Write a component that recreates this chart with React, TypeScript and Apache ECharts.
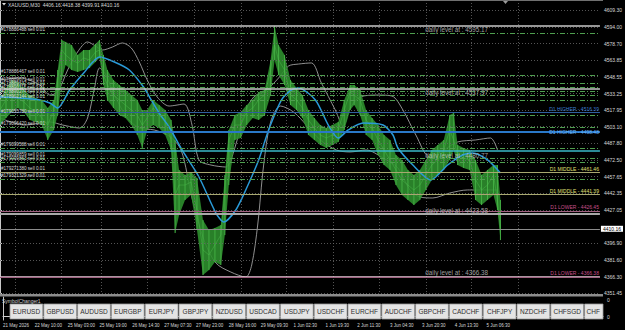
import React, { useEffect, useRef } from "react";
import * as echarts from "echarts";

// ---------- data ----------
const titleText = "XAUUSD,M30  4406.16 4418.38 4399.91 4410.16";

const priceTicks = [4609.3, 4594.0, 4578.7, 4563.85, 4548.55, 4533.25, 4517.95, 4503.1, 4487.8, 4472.5, 4457.65, 4442.35, 4427.05, 4396.9, 4381.6, 4366.3, 4351.45];
const currentPrice = 4410.16;

const timeLabels = ["21 May 2026", "22 May 10:00", "25 May 03:00", "25 May 19:00", "26 May 14:30", "27 May 07:30", "27 May 23:00", "28 May 16:00", "29 May 09:30", "1 Jun 02:30", "1 Jun 19:30", "2 Jun 11:30", "3 Jun 04:30", "3 Jun 20:30", "4 Jun 13:30", "5 Jun 06:30"];
const timeBars = [0, 32, 65, 97, 130, 162, 194, 227, 259, 292, 324, 356, 389, 421, 454, 486];
const gridBars = [15, 62, 102, 148, 195, 242, 288, 335, 381, 428, 474, 521];

const priceBars = [0, 6, 12, 18, 24, 30, 36, 42, 48, 54, 58, 62, 66, 72, 78, 84, 90, 96, 100, 104, 108, 114, 120, 126, 132, 138, 143, 148, 154, 160, 166, 172, 176, 180, 186, 192, 198, 204, 210, 216, 222, 226, 230, 236, 242, 248, 254, 260, 266, 272, 276, 280, 286, 292, 298, 304, 310, 316, 322, 328, 334, 340, 346, 352, 356, 362, 368, 374, 380, 386, 392, 398, 404, 410, 416, 422, 428, 434, 440, 446, 452, 456, 460, 466, 472, 478, 484, 490, 496, 500, 503];
const priceHigh = [4527.4, 4538.3, 4545.6, 4543.8, 4536.5, 4531.9, 4529.2, 4527.4, 4520.1, 4527.4, 4554.7, 4582.0, 4580.2, 4577.4, 4568.3, 4572.9, 4572.9, 4578.4, 4582.0, 4568.3, 4554.7, 4545.6, 4541.0, 4536.5, 4531.9, 4527.4, 4518.3, 4518.3, 4527.4, 4522.8, 4518.3, 4509.2, 4491.0, 4463.7, 4459.1, 4461.8, 4456.4, 4418.2, 4409.1, 4410.9, 4413.6, 4459.1, 4500.1, 4513.7, 4516.5, 4522.8, 4527.4, 4534.7, 4536.5, 4563.8, 4594.7, 4577.4, 4568.3, 4545.6, 4538.3, 4531.9, 4518.3, 4511.0, 4504.6, 4501.9, 4504.6, 4507.4, 4527.4, 4541.0, 4541.0, 4536.5, 4518.3, 4511.0, 4504.6, 4495.5, 4491.0, 4477.3, 4472.8, 4463.7, 4459.1, 4463.7, 4472.8, 4481.9, 4486.4, 4491.0, 4513.7, 4515.5, 4486.4, 4483.7, 4481.9, 4472.8, 4459.1, 4463.7, 4468.2, 4468.2, 4436.4];
const priceLow = [4504.6, 4511.0, 4516.5, 4520.1, 4516.5, 4509.2, 4507.4, 4504.6, 4491.0, 4500.1, 4513.7, 4545.6, 4559.2, 4554.7, 4552.9, 4554.7, 4556.5, 4562.0, 4565.6, 4541.0, 4527.4, 4520.1, 4513.7, 4511.0, 4504.6, 4495.5, 4483.7, 4500.1, 4504.6, 4501.9, 4495.5, 4481.9, 4406.3, 4422.7, 4436.4, 4440.9, 4409.1, 4368.1, 4372.6, 4379.9, 4377.2, 4404.5, 4450.0, 4491.0, 4492.8, 4504.6, 4511.0, 4509.2, 4513.7, 4531.9, 4563.8, 4550.1, 4541.0, 4522.8, 4518.3, 4511.0, 4495.5, 4491.0, 4486.4, 4483.7, 4486.4, 4489.2, 4500.1, 4518.3, 4522.8, 4513.7, 4495.5, 4491.0, 4477.3, 4468.2, 4463.7, 4450.0, 4440.9, 4436.4, 4431.8, 4436.4, 4445.5, 4454.6, 4459.1, 4463.7, 4472.8, 4481.9, 4468.2, 4465.5, 4463.7, 4436.4, 4431.8, 4436.4, 4440.9, 4427.3, 4399.9];
const priceClose = [4518.3, 4527.4, 4534.7, 4529.2, 4525.6, 4520.1, 4516.5, 4511.0, 4504.6, 4518.3, 4545.6, 4572.9, 4568.3, 4563.8, 4561.1, 4565.6, 4563.8, 4571.1, 4572.9, 4550.1, 4541.0, 4531.9, 4527.4, 4522.8, 4518.3, 4513.7, 4504.6, 4511.0, 4520.1, 4513.7, 4507.4, 4491.0, 4440.9, 4450.0, 4450.0, 4452.7, 4427.3, 4390.9, 4386.3, 4395.4, 4404.5, 4445.5, 4491.0, 4504.6, 4504.6, 4516.5, 4520.1, 4527.4, 4531.9, 4554.7, 4577.4, 4563.8, 4554.7, 4531.9, 4527.4, 4520.1, 4509.2, 4501.9, 4495.5, 4492.8, 4495.5, 4500.1, 4518.3, 4534.7, 4531.9, 4527.4, 4509.2, 4501.9, 4491.0, 4481.9, 4472.8, 4463.7, 4454.6, 4450.0, 4445.5, 4450.0, 4459.1, 4468.2, 4472.8, 4481.9, 4500.1, 4491.0, 4477.3, 4474.6, 4472.8, 4454.6, 4445.5, 4450.0, 4459.1, 4436.4, 4410.16];

const maBars = [0, 20, 40, 50, 58, 70, 85, 100, 115, 130, 145, 152, 160, 170, 183, 200, 217, 225, 237, 247, 260, 270, 283, 293, 300, 317, 330, 340, 350, 365, 385, 395, 400, 415, 433, 450, 465, 475, 490, 503];
const maValues = [4530.1, 4529.2, 4527.4, 4524.7, 4520.1, 4536.5, 4552.9, 4566.5, 4562.0, 4554.7, 4538.3, 4527.4, 4515.5, 4502.8, 4481.9, 4457.3, 4424.5, 4416.3, 4427.3, 4445.5, 4472.8, 4500.1, 4527.4, 4536.5, 4538.3, 4527.4, 4504.6, 4492.8, 4500.1, 4506.4, 4504.6, 4495.5, 4483.7, 4468.2, 4454.6, 4468.2, 4477.3, 4479.1, 4472.8, 4460.9];

const upperBars = [0, 20, 40, 50, 58, 68, 78, 88, 96, 103, 113, 123, 132, 140, 148, 158, 170, 185, 193, 200, 212, 227, 236, 245, 255, 268, 280, 290, 300, 313, 323, 337, 345, 352, 362, 380, 394, 405, 418, 432, 446, 460, 478, 493, 500];
const upperValues = [4545.6, 4547.4, 4541.0, 4531.9, 4534.7, 4554.7, 4571.1, 4580.2, 4576.5, 4572.9, 4575.6, 4579.3, 4574.7, 4562.0, 4545.6, 4530.1, 4521.9, 4523.7, 4504.6, 4472.8, 4468.2, 4466.4, 4483.7, 4513.7, 4530.1, 4536.5, 4547.4, 4558.3, 4560.1, 4561.1, 4542.9, 4518.3, 4503.7, 4520.1, 4530.1, 4531.9, 4531.0, 4518.3, 4495.5, 4475.5, 4481.9, 4489.2, 4491.0, 4492.8, 4481.9];

const lowerBars = [0, 25, 50, 63, 80, 88, 95, 100, 106, 115, 128, 140, 155, 170, 182, 193, 205, 217, 232, 247, 253, 259, 265, 272, 282, 295, 308, 322, 338, 352, 368, 385, 400, 412, 422, 435, 452, 470, 500];
const lowerValues = [4511.0, 4504.6, 4507.4, 4504.6, 4501.9, 4511.0, 4538.3, 4556.5, 4551.0, 4531.9, 4511.0, 4501.9, 4500.1, 4494.6, 4481.9, 4438.2, 4400.0, 4379.0, 4370.8, 4366.3, 4377.2, 4413.6, 4468.2, 4507.4, 4521.9, 4516.5, 4504.6, 4491.0, 4481.9, 4480.1, 4481.9, 4474.6, 4465.5, 4445.5, 4439.1, 4438.2, 4442.7, 4445.5, 4445.5];

const dailyLevels = [4595.17, 4537.97, 4480.77, 4423.58, 4366.38];
const d1HigherLevels = [4516.39, 4498.48];
const d1MiddleLevels = [4461.46, 4441.39];
const d1LowerLevels = [4426.45, 4366.38];

const orderTickets = ["#178886488", "#178886467", "#178889671", "#178889632", "#178890115", "#178890274", "#178902144", "#179055780", "#179096420", "#179099588", "#179099859", "#179099863", "#179271380", "#179321329"];
const orderPrices = [4588.4, 4550.1, 4542.9, 4539.2, 4535.6, 4531.9, 4527.4, 4513.7, 4502.8, 4483.7, 4474.6, 4470.9, 4461.8, 4455.5];
const orderLots = "sell 0.01";

const symbols = ["EURUSD", "GBPUSD", "AUDUSD", "EURGBP", "EURJPY", "GBPJPY", "NZDUSD", "USDCAD", "USDJPY", "USDCHF", "EURCHF", "AUDCHF", "GBPCHF", "CADCHF", "CHFJPY", "NZDCHF", "CHFSGD", "CHF"];

// ---------- layout / style constants ----------
const FONT = "'Liberation Sans', Arial, sans-serif";
const PLOT_W = 603;
const DAILY_TAG_BAR = 426;
const DAILY_TAG_DY = [4, 4, 4, -4, -4];
const DAILY_COLORS = ["#c8c8c8", "#c8c8c8", "#3ab8c8", "#a8a8a8", "#e0c8d4"];
const DAILY_WIDTHS = [1.5, 1.5, 1.5, 2, 1.5];

function buildOption(): any {
  const hLine = (v: number, color: string, width: number, type: any, label: any) => ({
    yAxis: v,
    lineStyle: { color, width, type },
    label: label || { show: false },
  });

  const gridMarks = [
    ...priceTicks.map((v) => hLine(v, "#6a6a6a", 0.8, [1, 2], null)),
    ...gridBars.map((b) => ({ xAxis: b, lineStyle: { color: "#6a6a6a", width: 0.8, type: [1, 2] }, label: { show: false } })),
  ];

  const levelMarks: any[] = [];
  orderPrices.forEach((v, i) => {
    levelMarks.push(
      hLine(v, "#4f9f4f", 1, [5, 2, 1, 2], {
        show: true,
        position: "insideStartTop",
        distance: 1,
        formatter: `${orderTickets[i]} ${orderLots}`,
        color: "#d8d8d8",
        fontSize: 4.6,
        fontFamily: FONT,
      })
    );
  });
  dailyLevels.forEach((v, i) => levelMarks.push(hLine(v, DAILY_COLORS[i], DAILY_WIDTHS[i], "solid", null)));
  d1HigherLevels.forEach((v, i) =>
    levelMarks.push(
      hLine(v, i === 0 ? "#2f5f9f" : "#2a78c8", i === 0 ? 1.2 : 2, "solid", {
        show: true,
        position: i === 0 ? "insideEndTop" : "insideEnd",
        distance: 1,
        formatter: `D1 HIGHER - ${v.toFixed(2)}`,
        color: i === 0 ? "#3f7fd0" : "#6ab8ff",
        fontSize: 5,
        fontFamily: FONT,
      })
    )
  );
  d1MiddleLevels.forEach((v) =>
    levelMarks.push(
      hLine(v, "#a8a870", 1.2, "solid", {
        show: true,
        position: "insideEndTop",
        distance: 1,
        formatter: `D1 MIDDLE - ${v.toFixed(2)}`,
        color: "#e0e078",
        fontSize: 5,
        fontFamily: FONT,
      })
    )
  );
  d1LowerLevels.forEach((v) =>
    levelMarks.push(
      hLine(v, "#a06080", 1.2, "solid", {
        show: true,
        position: "insideEndTop",
        distance: 1,
        formatter: `D1 LOWER - ${v.toFixed(2)}`,
        color: "#c8508a",
        fontSize: 5,
        fontFamily: FONT,
      })
    )
  );
  levelMarks.push(
    hLine(currentPrice, "#8c8c8c", 1, "solid", {
      show: true,
      position: "end",
      distance: 1,
      formatter: currentPrice.toFixed(2),
      color: "#000",
      backgroundColor: "#fff",
      padding: [1, 2, 0, 2],
      fontSize: 5,
      fontFamily: FONT,
    })
  );

  const btnPitch = 33.8;
  const btnX0 = 10;
  const graphics: any[] = [
    { type: "line", z: 50, shape: { x1: 0, y1: 0.5, x2: PLOT_W, y2: 0.5 }, style: { stroke: "#707070", lineWidth: 1 } },
    { type: "polygon", z: 50, shape: { points: [[2, 3], [6, 3], [4, 5.5]] }, style: { fill: "#dddddd" } },
    { type: "text", z: 50, x: 8, y: 4.5, style: { text: titleText, fill: "#d8d8d8", fontSize: 5, fontFamily: FONT, verticalAlign: "middle" } },
    { type: "polygon", z: 50, shape: { points: [[503, 1], [508, 1], [505.5, 4]] }, style: { fill: "#9a9a9a" } },
    { type: "rect", z: 50, shape: { x: 0, y: 294, width: PLOT_W, height: 2.5 }, style: { fill: "#8c8c8c" } },
    { type: "text", z: 50, x: 2, y: 300.5, style: { text: "SymbolChanger1", fill: "#cfcfcf", fontSize: 5, fontFamily: FONT, verticalAlign: "middle" } },
  ];
  symbols.forEach((s, i) => {
    const x = btnX0 + i * btnPitch;
    const w = Math.min(32.8, PLOT_W - x);
    graphics.push({ type: "rect", z: 60, shape: { x, y: 304, width: w, height: 15 }, style: { fill: "#e4e4e4", stroke: "#9a9a9a", lineWidth: 0.8 } });
    const last = i === symbols.length - 1;
    graphics.push({
      type: "text",
      z: 61,
      x: last ? x + 2 : x + w / 2,
      y: 311.5,
      style: { text: s, fill: "#303030", fontSize: 6.5, fontFamily: FONT, align: last ? "left" : "center", verticalAlign: "middle" },
    });
  });

  return {
    backgroundColor: "#000",
    animation: false,
    textStyle: { fontFamily: FONT },
    grid: [
      { left: 0, top: 0, width: PLOT_W, height: 295 },
      { left: 0, top: 297, width: PLOT_W, height: 23 },
    ],
    xAxis: [
      { type: "value", gridIndex: 0, min: 0, max: PLOT_W, show: false },
      {
        type: "value",
        gridIndex: 1,
        min: 0,
        max: PLOT_W,
        axisLine: { show: true, lineStyle: { color: "#d0d0d0", width: 1 } },
        axisTick: { show: true, customValues: timeBars, length: 2, lineStyle: { color: "#d0d0d0" } },
        axisLabel: {
          customValues: timeBars,
          formatter: (v: number) => timeLabels[timeBars.indexOf(v)] ?? "",
          align: "left",
          fontSize: 4.5,
          color: "#d8d8d8",
          margin: 3,
          fontFamily: FONT,
        },
        splitLine: { show: false },
      },
    ],
    yAxis: [
      {
        type: "value",
        gridIndex: 0,
        min: 4349.9,
        max: 4618.4,
        position: "right",
        axisLine: { show: true, lineStyle: { color: "#c8c8c8", width: 1 } },
        axisTick: { show: true, customValues: priceTicks, length: 2, lineStyle: { color: "#c8c8c8" } },
        axisLabel: { customValues: priceTicks, formatter: (v: number) => v.toFixed(2), fontSize: 5, color: "#d8d8d8", margin: 4, fontFamily: FONT },
        splitLine: { show: false },
      },
      {
        type: "value",
        gridIndex: 1,
        min: -0.2,
        max: 1.2,
        position: "right",
        axisLine: { show: true, lineStyle: { color: "#c8c8c8", width: 1 } },
        axisTick: { show: false },
        axisLabel: { customValues: [0, 1], formatter: () => "0", fontSize: 5, color: "#d8d8d8", margin: 4, fontFamily: FONT },
        splitLine: { show: false },
      },
    ],
    series: [
      {
        type: "line",
        name: "grid",
        xAxisIndex: 0,
        yAxisIndex: 0,
        data: [],
        z: 1,
        silent: true,
        markLine: { silent: true, symbol: "none", label: { show: false }, data: gridMarks },
      },
      {
        type: "line",
        name: "upper",
        xAxisIndex: 0,
        yAxisIndex: 0,
        z: 2,
        data: upperBars.map((b, i) => [b, upperValues[i]]),
        symbol: "none",
        smooth: 0.3,
        lineStyle: { color: "#b4b4b4", width: 0.8 },
      },
      {
        type: "line",
        name: "lower",
        xAxisIndex: 0,
        yAxisIndex: 0,
        z: 2,
        data: lowerBars.map((b, i) => [b, lowerValues[i]]),
        symbol: "none",
        smooth: 0.3,
        lineStyle: { color: "#b4b4b4", width: 0.8 },
      },
      {
        type: "custom",
        name: "price",
        xAxisIndex: 0,
        yAxisIndex: 0,
        z: 3,
        clip: true,
        data: priceBars.map((b, i) => [b, priceHigh[i], priceLow[i], priceClose[i]]),
        encode: { x: 0, y: [1, 2, 3] },
        renderItem: (params: any, api: any) => {
          const i = params.dataIndex;
          const x = api.value(0);
          const ph = api.coord([x, api.value(1)]);
          const pl = api.coord([x, api.value(2)]);
          const children: any[] = [];
          if (i < priceBars.length - 1) {
            const a = api.coord([priceBars[i + 1], priceHigh[i + 1]]);
            const b = api.coord([priceBars[i + 1], priceLow[i + 1]]);
            children.push({ type: "polygon", shape: { points: [ph, a, b, pl] }, style: { fill: "#2e8e2e", opacity: 0.9 } });
          }
          children.push({ type: "line", shape: { x1: ph[0], y1: ph[1], x2: pl[0], y2: pl[1] }, style: { stroke: "#44b044", lineWidth: 1 } });
          return { type: "group", children };
        },
      },
      {
        type: "line",
        name: "close",
        xAxisIndex: 0,
        yAxisIndex: 0,
        z: 3,
        data: priceBars.map((b, i) => [b, priceClose[i]]),
        symbol: "none",
        lineStyle: { color: "#4fc04f", width: 0.6, opacity: 0.7 },
      },
      {
        type: "line",
        name: "ma",
        xAxisIndex: 0,
        yAxisIndex: 0,
        z: 4,
        data: maBars.map((b, i) => [b, maValues[i]]),
        symbol: "none",
        smooth: 0.25,
        lineStyle: { color: "#2a9ad8", width: 1.5 },
      },
      {
        type: "line",
        name: "levels",
        xAxisIndex: 0,
        yAxisIndex: 0,
        data: [],
        z: 5,
        silent: true,
        markLine: { silent: true, symbol: "none", label: { show: false }, data: levelMarks },
      },
      {
        type: "scatter",
        name: "dailyTags",
        xAxisIndex: 0,
        yAxisIndex: 0,
        z: 6,
        silent: true,
        symbolSize: 1,
        itemStyle: { color: "rgba(0,0,0,0)" },
        data: dailyLevels.map((v, i) => ({ value: [DAILY_TAG_BAR, v], label: { offset: [0, DAILY_TAG_DY[i]] } })),
        label: {
          show: true,
          position: "right",
          distance: 1,
          formatter: (p: any) => "daily level at : " + p.value[1].toFixed(2),
          color: "#c8c8c8",
          fontSize: 6.3,
          fontFamily: FONT,
        },
      },
    ],
    graphic: graphics,
  };
}

export default function App() {
  const ref = useRef<HTMLDivElement>(null);
  useEffect(() => {
    document.body.style.margin = "0";
    document.body.style.background = "#000";
    const chart = echarts.init(ref.current as HTMLDivElement, null, { renderer: "svg" });
    chart.setOption(buildOption());
    return () => chart.dispose();
  }, []);
  return <div ref={ref} style={{ position: "fixed", left: 0, top: 0, width: 625, height: 330, background: "#000" }} />;
}
